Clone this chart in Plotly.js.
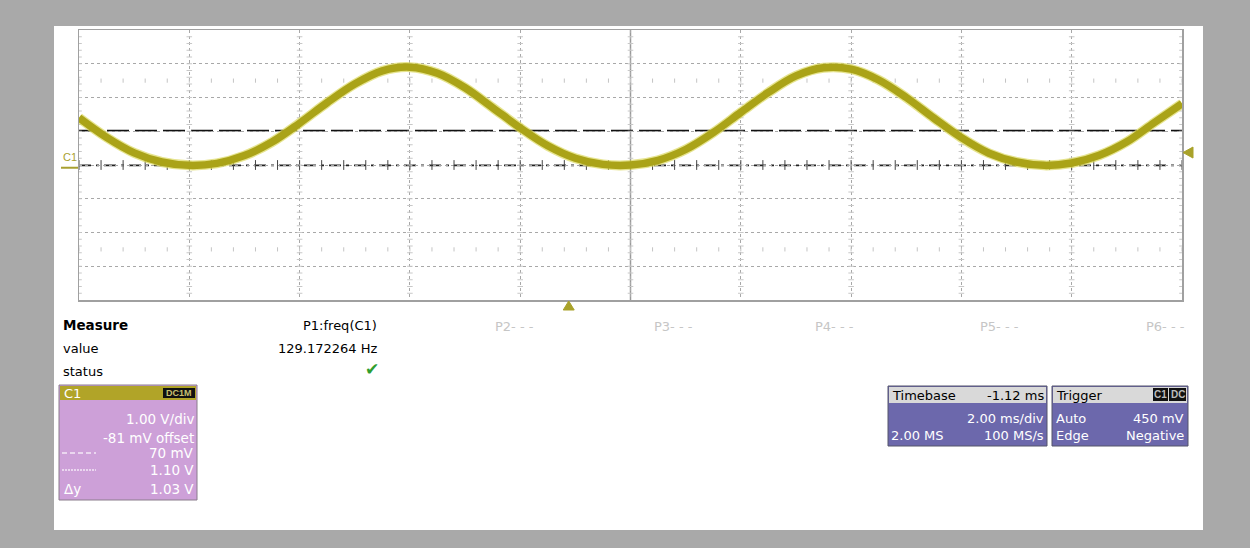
<!DOCTYPE html>
<html>
<head>
<meta charset="utf-8">
<script src="https://cdn.plot.ly/plotly-3.0.1.min.js"></script>
<style>html,body{margin:0;padding:0;background:#a9a9a9;}#chart{width:1250px;height:548px;}</style>
</head>
<body>
<div id="chart"></div>
<script>
// ---- data ----
const timeMs = [-8.88,-8.38,-7.88,-7.38,-6.88,-6.38,-5.88,-5.38,-4.88,-4.38,-3.88,-3.38,-2.88,-2.38,-1.88,-1.38,-0.88,-0.38,0.12,0.62,1.12,1.62,2.12,2.62,3.12,3.62,4.12,4.62,5.12,5.62,6.12,6.62,7.12,7.62,8.12,8.62,9.12,9.62,10.12,10.62,11.12];
const voltsC1 = [1.48,0.90,0.44,0.17,0.07,0.13,0.36,0.76,1.32,1.93,2.48,2.87,2.98,2.80,2.37,1.78,1.18,0.65,0.28,0.10,0.08,0.22,0.54,1.04,1.64,2.23,2.72,2.96,2.92,2.60,2.08,1.47,0.89,0.43,0.17,0.07,0.14,0.37,0.77,1.34,1.90];
const voltsPerDiv = 1.00;
const offsetV = -0.081;
const msPerDiv = 2.00;
const delayMs = -1.12;
const cursorLevels = [0.07, 1.10];   // V
const triggerLevel = 0.45;           // V
const triggerTime = 0;               // ms
const measureLabels = ["P1:freq(C1)","P2- - -","P3- - -","P4- - -","P5- - -","P6- - -"];
const measureValue = "129.172264 Hz";
const c1Lines = ["1.00 V/div","-81 mV offset","70 mV","1.10 V","1.03 V"];
const timebaseLines = ["-1.12 ms","2.00 ms/div","2.00 MS","100 MS/s"];
const triggerLines = ["Auto","450 mV","Edge","Negative"];

// ---- geometry ----
const L=79,R=1182,T=30,B=300;
const X=p=>(p-L)/(R-L), Y=p=>(B-p)/(B-T);
const vC=-offsetV, tC=-delayMs;
const yr=[vC-4*voltsPerDiv, vC+4*voltsPerDiv];
const xr=[tC-5*msPerDiv, tC+5*msPerDiv];
const vPerPx=(yr[1]-yr[0])/(B-T), tPerPx=(xr[1]-xr[0])/(R-L);
const yPx=v=>B-(v-yr[0])/vPerPx, xPx=t=>L+(t-xr[0])/tPerPx;
const FONT="DejaVu Sans, Verdana, sans-serif";

const shapes=[], annotations=[];
function rect(x0,y0,x1,y1,fill,line,lw){shapes.push({type:'rect',xref:'paper',yref:'paper',x0:X(x0),x1:X(x1),y0:Y(y0),y1:Y(y1),fillcolor:fill,line:{color:line||fill,width:lw===undefined?0:lw},layer:'above'});}
function tri(pts,fill){shapes.push({type:'path',xref:'paper',yref:'paper',path:'M'+pts.map(p=>X(p[0])+','+Y(p[1])).join(' L')+' Z',fillcolor:fill,line:{color:fill,width:1},layer:'above'});}
function txt(t,x,y,anchor,color,size,bold){annotations.push({text:bold?'<b>'+t+'</b>':t,xref:'paper',yref:'paper',x:X(x),y:Y(y),xanchor:anchor,yanchor:'middle',showarrow:false,font:{family:FONT,size:size||13,color:color||'#000'}});}

// white panel
shapes.push({type:'rect',xref:'paper',yref:'paper',x0:X(54),x1:X(1203),y0:Y(26),y1:Y(530),fillcolor:'#ffffff',line:{width:0},layer:'below'});
// centre vertical solid line
shapes.push({type:'line',xref:'x',yref:'paper',x0:tC,x1:tC,y0:0,y1:1,line:{color:'#9a9a9a',width:1.5},layer:'below'});
// cursors
shapes.push({type:'line',xref:'paper',yref:'y',x0:0,x1:1,y0:cursorLevels[1],y1:cursorLevels[1],line:{color:'#111',width:1.6,dash:'22px,6px'},layer:'below'});
shapes.push({type:'line',xref:'paper',yref:'y',x0:0,x1:1,y0:cursorLevels[0],y1:cursorLevels[0],line:{color:'#222',width:1.6,dash:'12px,5px,3px,5px'},layer:'below'});
// ground marker
shapes.push({type:'line',xref:'paper',yref:'y',x0:X(61),x1:X(78),y0:0,y1:0,line:{color:'#a8a030',width:2},layer:'above'});
annotations.push({text:'C1',xref:'paper',yref:'paper',x:X(61),y:Y(157),xanchor:'left',yanchor:'middle',showarrow:false,font:{family:"Liberation Sans, Arial, sans-serif",size:11,color:'#a8a030'}});

// trigger markers (level on right edge, time on bottom edge)
const tly=yPx(triggerLevel), ttx=xPx(triggerTime);
tri([[R+1,tly],[R+11,tly-5.5],[R+11,tly+5.5]],'#a9a22a');
tri([[ttx,B+1],[ttx-5.5,B+10],[ttx+5.5,B+10]],'#a9a22a');

// minor tick decorations
const tickX=[];
for(let i=0;i<=50;i++){tickX.push(xr[0]+i*msPerDiv/5);}
const traces=[];
traces.push({x:tickX,y:tickX.map(()=>vC),mode:'markers',marker:{symbol:'line-ns',size:7,line:{color:'#444',width:1}},hoverinfo:'skip',showlegend:false});
traces.push({x:tickX.concat(tickX),y:tickX.map(()=>vC+2.5*voltsPerDiv).concat(tickX.map(()=>vC-2.5*voltsPerDiv)),mode:'markers',marker:{symbol:'line-ns',size:3,line:{color:'#c4c4c4',width:1}},hoverinfo:'skip',showlegend:false});
const vgx=[],vgy=[];
for(let d=0;d<=10;d++){for(let j=1;j<40;j++){vgx.push(xr[0]+d*msPerDiv);vgy.push(yr[0]+j*voltsPerDiv/5);}}
traces.push({x:vgx,y:vgy,mode:'markers',marker:{symbol:'line-ew',size:4,line:{color:'#c8c8c8',width:1}},hoverinfo:'skip',showlegend:false});

// waveform
traces.push({x:timeMs,y:voltsC1,mode:'lines',line:{color:'#dcd860',width:10,shape:'spline'},opacity:0.7,hoverinfo:'skip',showlegend:false});
traces.push({x:timeMs,y:voltsC1,mode:'lines',line:{color:'#aaa318',width:7.5,shape:'spline'},showlegend:false});

// measure table
txt('Measure',61,325,'left','#000',13.5,true);
txt(measureLabels[0],379,325,'right','#000',13);
const pX=[493,652,813,978,1187];
for(let i=1;i<6;i++){txt(measureLabels[i],pX[i-1],326,i===5?'right':'left','#c6c6c6',13);}
txt('value',61,348,'left','#000',13);
txt(measureValue,379,348,'right','#000',13);
txt('status',61,371,'left','#000',13);
txt('✔',372,369,'center','#2f9e2f',17);

// C1 box
rect(59,385,197,500,'#cda0d8','#8a7c8c',1);
rect(60,386,196,400,'#b1a428');
rect(163,388,195,398,'#111');
txt('C1',62,393,'left','#ffffff',13);
annotations.push({text:'<b>DC1M</b>',xref:'paper',yref:'paper',x:X(179),y:Y(393),xanchor:'center',yanchor:'middle',showarrow:false,font:{family:"Liberation Sans, Arial, sans-serif",size:9,color:'#c6c070'}});
const c1Y=[419,438,453,470,489];
for(let i=0;i<5;i++){txt(c1Lines[i],196,c1Y[i],'right','#ffffff',13.5);}
shapes.push({type:'line',xref:'paper',yref:'paper',x0:X(62),x1:X(96),y0:Y(453),y1:Y(453),line:{color:'#f4e8f6',width:1.5,dash:'5px,3px'},layer:'above'});
shapes.push({type:'line',xref:'paper',yref:'paper',x0:X(62),x1:X(96),y0:Y(470),y1:Y(470),line:{color:'#f4e8f6',width:1.5,dash:'2px,1px'},layer:'above'});
txt('Δy',62,489,'left','#ffffff',13.5);

// Timebase box
rect(888,386,1047,446,'#6c68ac','#55546a',1);
rect(889,387,1046,403,'#d9d9d9');
txt('Timebase',890,395,'left','#000',13);
txt(timebaseLines[0],1046,395,'right','#000',13);
txt(timebaseLines[1],1046,418,'right','#ffffff',13);
txt(timebaseLines[2],889,435,'left','#ffffff',13);
txt(timebaseLines[3],1046,435,'right','#ffffff',13);

// Trigger box
rect(1052,386,1188,446,'#6c68ac','#55546a',1);
rect(1053,387,1187,403,'#d9d9d9');
txt('Trigger',1054,395,'left','#000',13);
rect(1153,388,1168,401,'#111');
rect(1169,388,1186,401,'#111');
annotations.push({text:'<b>C1</b>',xref:'paper',yref:'paper',x:X(1160.5),y:Y(394.5),xanchor:'center',yanchor:'middle',showarrow:false,font:{family:"Liberation Sans, Arial, sans-serif",size:10,color:'#bbbbbb'}});
annotations.push({text:'<b>DC</b>',xref:'paper',yref:'paper',x:X(1177.5),y:Y(394.5),xanchor:'center',yanchor:'middle',showarrow:false,font:{family:"Liberation Sans, Arial, sans-serif",size:10,color:'#bbbbbb'}});
txt(triggerLines[0],1054,418,'left','#ffffff',13);
txt(triggerLines[1],1186,418,'right','#ffffff',13);
txt(triggerLines[2],1054,435,'left','#ffffff',13);
txt(triggerLines[3],1186,435,'right','#ffffff',13);

const layout={
  width:1250,height:548,
  margin:{l:L,r:1250-R,t:T,b:548-B,pad:0},
  paper_bgcolor:'#a9a9a9',plot_bgcolor:'#ffffff',
  showlegend:false,
  xaxis:{range:xr,tick0:xr[0],dtick:msPerDiv,showticklabels:false,ticks:'',showgrid:true,gridcolor:'#a8a8a8',griddash:'dot',gridwidth:1,zeroline:false,showline:true,mirror:true,linecolor:'#a0a0a0',linewidth:1.5,fixedrange:true},
  yaxis:{range:yr,tick0:yr[0],dtick:voltsPerDiv,showticklabels:false,ticks:'',showgrid:true,gridcolor:'#a8a8a8',griddash:'dot',gridwidth:1,zeroline:false,showline:true,mirror:true,linecolor:'#a0a0a0',linewidth:1.5,fixedrange:true},
  shapes:shapes,annotations:annotations
};
Plotly.newPlot('chart',traces,layout,{staticPlot:true,displayModeBar:false});
</script>
</body>
</html>
